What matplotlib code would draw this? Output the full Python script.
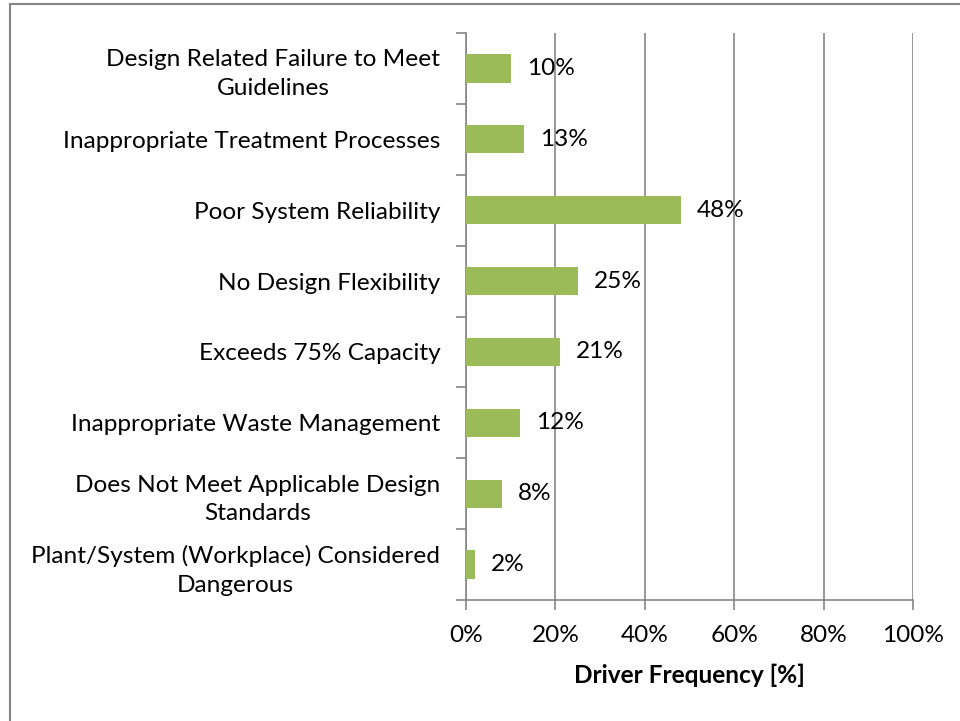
import matplotlib
matplotlib.use("Agg")
import matplotlib.pyplot as plt
from matplotlib.lines import Line2D

categories = [
    "Design Related Failure to Meet\nGuidelines",
    "Inappropriate Treatment Processes",
    "Poor System Reliability",
    "No Design Flexibility",
    "Exceeds 75% Capacity",
    "Inappropriate Waste Management",
    "Does Not Meet Applicable Design\nStandards",
    "Plant/System (Workplace) Considered\nDangerous",
]
values = [10, 13, 48, 25, 21, 12, 8, 2]
xticks = [0, 20, 40, 60, 80, 100]
xtick_labels = ["0%", "20%", "40%", "60%", "80%", "100%"]

plt.rcParams['font.family'] = ['Lato', 'DejaVu Sans']
FS = 17.6

fig = plt.figure(figsize=(9.6, 7.21), dpi=100)
ax = fig.add_axes([466/960, 1-600/721, (913-466)/960, (600-33)/721])

n = len(categories)
ypos = list(range(n))[::-1]
ax.barh(ypos, values, height=0.4, color='#9BBB59', zorder=3)
for y, v in zip(ypos, values):
    ax.text(v + 3.6, y, f"{v}%", va='center', ha='left', fontsize=FS, zorder=4)

ax.set_xlim(0, 100)
ax.set_ylim(-0.5, n - 0.5)
ax.set_xticks(xticks)
ax.set_xticklabels(xtick_labels, fontsize=FS)
ax.set_yticks(ypos)
ax.set_yticklabels(categories, fontsize=FS, multialignment='center', linespacing=1.45)
ax.set_yticks([i - 0.5 for i in range(n + 1)], minor=True)
ax.tick_params(axis='y', which='major', length=0, pad=18.5)
ax.tick_params(axis='y', which='minor', length=7, color='#868686', width=1.2)
ax.tick_params(axis='x', length=7, color='#868686', width=1.2, pad=11)
ax.grid(axis='x', color='#868686', linewidth=1.2, zorder=0)
for s in ['top', 'right']:
    ax.spines[s].set_visible(False)
for s in ['left', 'bottom']:
    ax.spines[s].set_color('#868686')
    ax.spines[s].set_linewidth(1.2)
ax.set_xlabel("Driver Frequency [%]", fontsize=FS, fontweight='bold', labelpad=13)

fig.add_artist(Line2D([10/960, 10/960], [0, 1-4/721], transform=fig.transFigure, color='#868686', linewidth=1.5))
fig.add_artist(Line2D([10/960, 1], [1-4/721, 1-4/721], transform=fig.transFigure, color='#868686', linewidth=1.5))

fig.savefig("out.png", dpi=100)
